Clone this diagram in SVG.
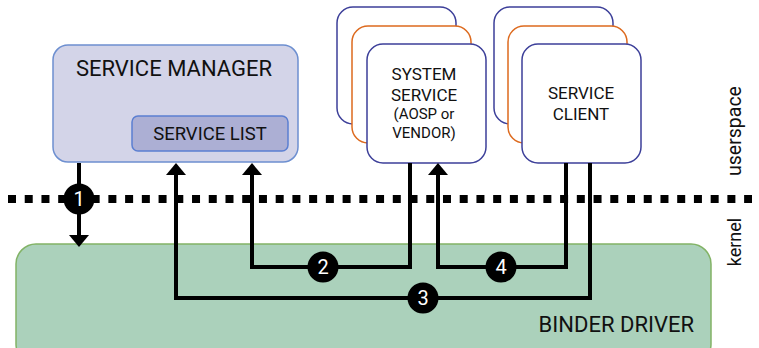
<svg xmlns="http://www.w3.org/2000/svg" width="759" height="348" viewBox="0 0 759 348">
<style>
text{font-family:Roboto,"Liberation Sans",sans-serif;fill:#111}
.lbl{text-anchor:middle}
.stk{fill:#fff;stroke:#3c3f99;stroke-width:1.5}
.org{fill:#fff;stroke:#dd6a1e;stroke-width:1.5}
.con{fill:none;stroke:#000;stroke-width:4;stroke-linejoin:miter}
.num{fill:#fff;font-size:20px;text-anchor:middle}
</style>
<defs>
<marker id="arr" viewBox="0 0 12 20" refX="0" refY="10" markerWidth="12" markerHeight="20" markerUnits="userSpaceOnUse" orient="auto">
<path d="M0,0 L12,10 L0,20 z" fill="#000"/>
</marker>
</defs>
<g id="binder-driver">
<rect x="16" y="244" width="695" height="120" rx="20" fill="#abd1bb" stroke="#82b366" stroke-width="1.5"/>
<text x="694" y="332" font-size="22" text-anchor="end">BINDER DRIVER</text>
</g>
<g id="boundary">
<path d="M8 199 H752" stroke="#000" stroke-width="8" stroke-dasharray="8 8.73"/>
<text transform="translate(741 131) rotate(-90)" font-size="19.5" text-anchor="middle">userspace</text>
<text transform="translate(741 242) rotate(-90)" font-size="18" text-anchor="middle">kernel</text>
</g>
<g id="service-manager">
<rect x="53" y="45" width="245" height="117" rx="15" fill="#d3d4e8" stroke="#6d8fd0" stroke-width="1.5"/>
<text class="lbl" x="174" y="76" font-size="22">SERVICE  MANAGER</text>
</g>
<g id="service-list">
<rect x="132" y="116" width="156" height="35" rx="6" fill="#acafd4" stroke="#5b7fd1" stroke-width="1.5"/>
<text class="lbl" x="210" y="140" font-size="18.5">SERVICE LIST</text>
</g>
<g id="system-service">
<rect class="stk" x="337" y="7" width="119" height="117" rx="16"/>
<rect class="org" x="352" y="26" width="119" height="117" rx="16"/>
<rect class="stk" x="367" y="44" width="119" height="119" rx="16"/>
<text class="lbl" x="424" y="80" font-size="17">SYSTEM</text>
<text class="lbl" x="424" y="101" font-size="17">SERVICE</text>
<text class="lbl" x="424" y="119" font-size="15">(AOSP or</text>
<text class="lbl" x="424" y="138" font-size="15">VENDOR)</text>
</g>
<g id="service-client">
<rect class="stk" x="494" y="7" width="119" height="117" rx="16"/>
<rect class="org" x="508" y="26" width="119" height="117" rx="16"/>
<rect class="stk" x="522" y="44" width="119" height="119" rx="16"/>
<text class="lbl" x="581" y="99" font-size="17">SERVICE</text>
<text class="lbl" x="581" y="120" font-size="17">CLIENT</text>
</g>
<g id="connectors">
<path class="con" d="M79 163 V235" marker-end="url(#arr)"/>
<path class="con" d="M410 163 V267 H252 V175" marker-end="url(#arr)"/>
<path class="con" d="M590 163 V298 H176 V175" marker-end="url(#arr)"/>
<path class="con" d="M566 163 V267 H438 V175" marker-end="url(#arr)"/>
</g>
<g id="markers">
<circle cx="79" cy="199" r="15.5" fill="#000"/>
<text class="num" x="79" y="206">1</text>
<circle cx="323" cy="267" r="15.5" fill="#000"/>
<text class="num" x="323" y="274">2</text>
<circle cx="423" cy="298" r="15.5" fill="#000"/>
<text class="num" x="423" y="305">3</text>
<circle cx="501" cy="267" r="15.5" fill="#000"/>
<text class="num" x="501" y="274">4</text>
</g>
</svg>
